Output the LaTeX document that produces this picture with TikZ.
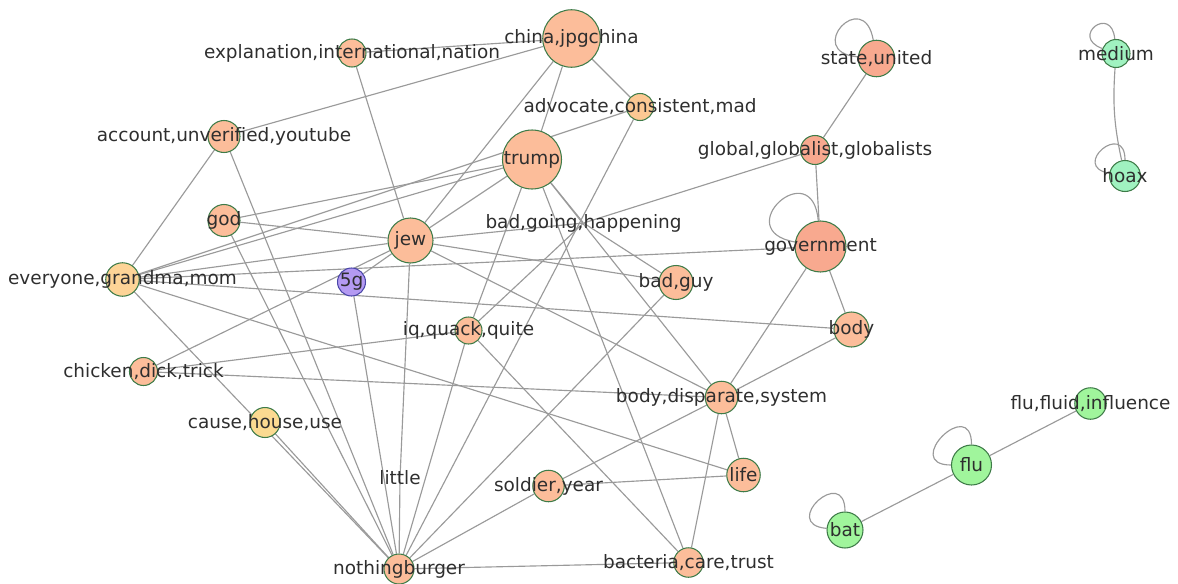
\documentclass[tikz,border=0pt]{standalone}
\usepackage{fontspec}
\setmainfont{DejaVu Sans}
\usetikzlibrary{backgrounds}

\definecolor{wordfill}{HTML}{FCBD9A}
\definecolor{govfill}{HTML}{F8A98F}
\definecolor{advfill}{HTML}{FCC893}
\definecolor{momfill}{HTML}{FDD497}
\definecolor{housefill}{HTML}{FBDA91}
\definecolor{gfill}{HTML}{B49AF2}
\definecolor{gedge}{HTML}{4A47A8}
\definecolor{hoaxfill}{HTML}{A0F2C0}
\definecolor{flufill}{HTML}{A0F59C}
\definecolor{rim}{HTML}{3E7B48}
\definecolor{linkgray}{HTML}{9A9A9A}
\definecolor{labelgray}{HTML}{2E2E2E}

\begin{document}
\begin{tikzpicture}[
        word/.style={circle, draw=rim, line width=0.6pt, fill=wordfill, inner sep=0pt},
        hub/.style={circle, inner sep=0pt, minimum size=0pt},
        link/.style={draw=linkgray, line width=0.65pt},
        every label/.style={font=\fontsize{10.5}{12}\selectfont, text=labelgray, inner sep=0pt}
    ]

    \useasboundingbox (0,0) rectangle (23.56,-11.66);

    % Main cluster - upper part
    \node[word, minimum size=0.56cm, label=center:{explanation,international,nation}] (explanation) at (7.04,-1.06) {};
    \node[word, minimum size=1.15cm, label=center:{china,jpgchina}] (china) at (11.43,-0.77) {};
    \node[word, fill=advfill, minimum size=0.54cm, label=center:{advocate,consistent,mad}] (advocate) at (12.80,-2.14) {};
    \node[word, minimum size=1.18cm, label=center:{trump}] (trump) at (10.64,-3.19) {};
    \node[word, minimum size=0.64cm, label=center:{account,unverified,youtube}] (account) at (4.48,-2.73) {};
    \node[word, minimum size=0.64cm, label=center:{god}] (god) at (4.48,-4.41) {};
    \node[word, minimum size=0.90cm, label=center:{jew}] (jew) at (8.21,-4.81) {};
    \node[word, fill=momfill, minimum size=0.67cm, label=center:{everyone,grandma,mom}] (everyone) at (2.45,-5.59) {};
    \node[word, draw=gedge, fill=gfill, minimum size=0.56cm, label=center:{5g}] (fiveg) at (7.03,-5.64) {};
    \node[hub, label=center:{bad,going,happening}] (badgoing) at (11.67,-4.46) {};
    \node[word, minimum size=0.68cm, label=center:{bad,guy}] (badguy) at (13.52,-5.65) {};

    % Main cluster - government side
    \node[word, fill=govfill, minimum size=0.73cm, label=center:{state,united}] (state) at (17.53,-1.17) {};
    \node[word, fill=govfill, minimum size=0.58cm, label=center:{global,globalist,globalists}] (global) at (16.30,-3.00) {};
    \node[word, fill=govfill, minimum size=1.02cm, label=center:{government}] (gov) at (16.41,-4.93) {};
    \node[word, minimum size=0.70cm, label=center:{body}] (body) at (17.03,-6.59) {};

    % Main cluster - lower part
    \node[word, minimum size=0.54cm, label=center:{iq,quack,quite}] (iq) at (9.37,-6.61) {};
    \node[word, minimum size=0.56cm, label=center:{chicken,dick,trick}] (chicken) at (2.87,-7.43) {};
    \node[word, minimum size=0.65cm, label=center:{body,disparate,system}] (disparate) at (14.43,-7.95) {};
    \node[word, fill=housefill, minimum size=0.60cm, label=center:{cause,house,use}] (cause) at (5.30,-8.45) {};
    \node[hub, label=center:{little}] (little) at (8.00,-9.56) {};
    \node[word, minimum size=0.67cm, label=center:{life}] (life) at (14.87,-9.50) {};
    \node[word, minimum size=0.63cm, label=center:{soldier,year}] (soldier) at (10.97,-9.72) {};
    \node[word, minimum size=0.60cm, label=center:{nothingburger}] (nothing) at (7.98,-11.38) {};
    \node[word, minimum size=0.59cm, label=center:{bacteria,care,trust}] (bacteria) at (13.77,-11.25) {};

    % Small clusters
    \node[word, fill=hoaxfill, minimum size=0.56cm, label=center:{medium}] (medium) at (22.32,-1.07) {};
    \node[word, fill=hoaxfill, minimum size=0.62cm, label=center:{hoax}] (hoax) at (22.50,-3.52) {};
    \node[word, fill=flufill, minimum size=0.63cm, label=center:{flu,fluid,influence}] (fluid) at (21.81,-8.07) {};
    \node[word, fill=flufill, minimum size=0.80cm, label=center:{flu}] (flu) at (19.43,-9.30) {};
    \node[word, fill=flufill, minimum size=0.72cm, label=center:{bat}] (bat) at (16.90,-10.60) {};

    % Links
    \begin{scope}[on background layer]
    \draw[link] (explanation) -- (china);
    \draw[link] (explanation) -- (jew);
    \draw[link] (account) -- (china);
    \draw[link] (account) -- (everyone);
    \draw[link] (account) -- (nothing);
    \draw[link] (china) -- (trump);
    \draw[link] (china) -- (jew);
    \draw[link] (china) -- (advocate);
    \draw[link] (advocate) -- (everyone);
    \draw[link] (advocate) -- (nothing);
    \draw[link] (trump) -- (everyone);
    \draw[link] (trump) -- (god);
    \draw[link] (trump) -- (jew);
    \draw[link] (trump) -- (iq);
    \draw[link] (trump) -- (bacteria);
    \draw[link] (trump) -- (disparate);
    \draw[link] (trump) -- (badgoing);
    \draw[link] (god) -- (jew);
    \draw[link] (god) -- (nothing);
    \draw[link] (jew) -- (fiveg);
    \draw[link] (jew) -- (chicken);
    \draw[link] (jew) -- (badgoing);
    \draw[link] (jew) -- (badguy);
    \draw[link] (jew) -- (disparate);
    \draw[link] (jew) -- (little);
    \draw[link] (jew) -- (everyone);
    \draw[link] (little) -- (nothing);
    \draw[link] (everyone) -- (gov);
    \draw[link] (everyone) -- (body);
    \draw[link] (everyone) -- (life);
    \draw[link] (everyone) -- (nothing);
    \draw[link] (badgoing) -- (global);
    \draw[link] (badgoing) -- (iq);
    \draw[link] (badgoing) -- (badguy);
    \draw[link] (global) -- (state);
    \draw[link] (global) -- (gov);
    \draw[link] (gov) -- (disparate);
    \draw[link] (gov) -- (body);
    \draw[link] (body) -- (disparate);
    \draw[link] (iq) -- (chicken);
    \draw[link] (iq) -- (bacteria);
    \draw[link] (iq) -- (nothing);
    \draw[link] (chicken) -- (disparate);
    \draw[link] (fiveg) -- (nothing);
    \draw[link] (cause) -- (nothing);
    \draw[link] (badguy) -- (nothing);
    \draw[link] (disparate) -- (life);
    \draw[link] (disparate) -- (soldier);
    \draw[link] (disparate) -- (bacteria);
    \draw[link] (life) -- (soldier);
    \draw[link] (soldier) -- (nothing);
    \draw[link] (bacteria) -- (nothing);
    \draw[link] (medium) to[bend right=8] (hoax);
    \draw[link] (fluid) -- (flu);
    \draw[link] (flu) -- (bat);

    % Self loops
    \draw[link] (state) to[out=100, in=175, looseness=0.5, min distance=1.1cm] (state);
    \draw[link] (gov) to[out=95, in=170, looseness=0.5, min distance=1.35cm] (gov);
    \draw[link] (medium) to[out=95, in=160, looseness=0.5, min distance=0.7cm] (medium);
    \draw[link] (hoax) to[out=90, in=170, looseness=0.5, min distance=0.8cm] (hoax);
    \draw[link] (flu) to[out=90, in=180, looseness=0.5, min distance=1.0cm] (flu);
    \draw[link] (bat) to[out=90, in=175, looseness=0.5, min distance=0.95cm] (bat);
    \end{scope}

\end{tikzpicture}
\end{document}
